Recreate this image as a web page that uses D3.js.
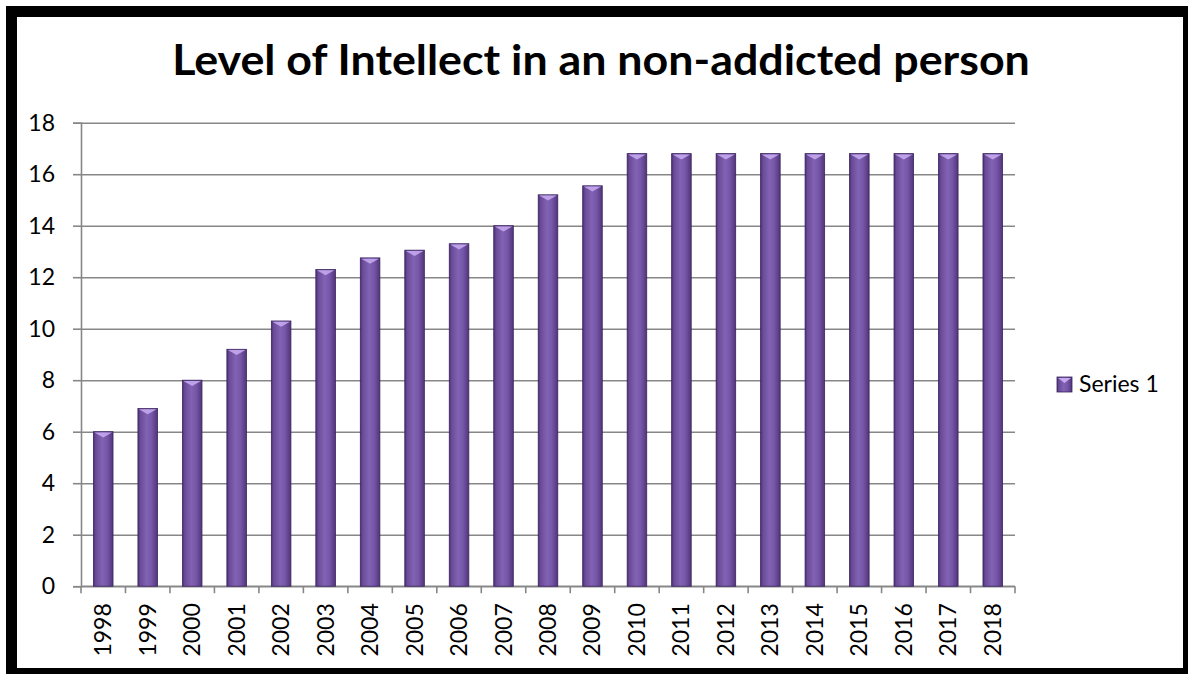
<!DOCTYPE html>
<html>
<head>
<meta charset="utf-8">
<script src="https://cdn.jsdelivr.net/npm/d3@7"></script>
<style>
  html, body { margin: 0; padding: 0; background: #fff; }
  svg { display: block; }
  text { font-family: Lato, "Open Sans", sans-serif; fill: #000; }
</style>
</head>
<body>
<svg id="chart" width="1188" height="674"></svg>
<script>
const title = "Level of Intellect in an non-addicted person";
const years = ["1998","1999","2000","2001","2002","2003","2004","2005","2006","2007","2008","2009","2010","2011","2012","2013","2014","2015","2016","2017","2018"];
const values = [6, 6.9, 8, 9.2, 10.3, 12.3, 12.75, 13.05, 13.3, 14, 15.2, 15.55, 16.8, 16.8, 16.8, 16.8, 16.8, 16.8, 16.8, 16.8, 16.8];
const yTicks = [0, 2, 4, 6, 8, 10, 12, 14, 16, 18];
const seriesName = "Series 1";

const svg = d3.select("#chart");
const W = 1188, H = 674;

svg.append("rect").attr("width", W).attr("height", H).attr("fill", "#fff");

const plot = { left: 81, right: 1015, top: 122.7, bottom: 586.2 };

const x = d3.scaleBand().domain(years).range([plot.left, plot.right]).paddingInner(0.56).paddingOuter(0.28);
const y = d3.scaleLinear().domain([0, 18]).range([plot.bottom, plot.top]);

// defs
const defs = svg.append("defs");
const grad = defs.append("linearGradient").attr("id", "barGrad").attr("x1", "0").attr("x2", "1").attr("y1", "0").attr("y2", "0");
[["0%", "#4a2f72"], ["12%", "#6a4b98"], ["45%", "#8262b3"], ["70%", "#7656a8"], ["100%", "#513579"]]
  .forEach(([o, c]) => grad.append("stop").attr("offset", o).attr("stop-color", c));

// gridlines
const gridY = d3.axisLeft(y).tickValues(yTicks).tickSize(-(plot.right - plot.left)).tickFormat("");
svg.append("g").attr("transform", `translate(${plot.left},0)`).call(gridY)
  .call(g => g.select(".domain").remove())
  .call(g => g.selectAll("line").attr("stroke", "#878787").attr("stroke-width", 1.6));

// y axis with tick labels
const yAxis = d3.axisLeft(y).tickValues(yTicks).tickSize(8).tickPadding(18);
svg.append("g").attr("transform", `translate(${plot.left},0)`).call(yAxis)
  .call(g => g.select(".domain").attr("stroke", "#878787").attr("stroke-width", 1.6))
  .call(g => g.selectAll("line").attr("stroke", "#878787").attr("stroke-width", 1.6))
  .call(g => g.selectAll("text").attr("font-size", 23).attr("font-family", "Lato, sans-serif").attr("fill", "#000"));

// x axis baseline & ticks at band boundaries
const xAxisG = svg.append("g").attr("transform", `translate(0,${plot.bottom})`);
xAxisG.append("line").attr("x1", plot.left).attr("x2", plot.right).attr("stroke", "#878787").attr("stroke-width", 1.6);
const step = x.step();
const boundaries = years.map((d, i) => x(d) - (step - x.bandwidth()) / 2).concat([plot.right]);
xAxisG.selectAll("line.tk").data(boundaries).join("line").attr("class", "tk")
  .attr("x1", d => d).attr("x2", d => d).attr("y1", 0).attr("y2", 7)
  .attr("stroke", "#878787").attr("stroke-width", 1.6);
xAxisG.selectAll("text").data(years).join("text")
  .attr("transform", d => `translate(${x(d) + x.bandwidth() / 2 + 8},${17}) rotate(-90)`)
  .attr("text-anchor", "end")
  .attr("font-size", 23)
  .text(d => d);

// bars
const bars = svg.append("g").selectAll("g").data(values.map((v, i) => ({ year: years[i], v }))).join("g");
bars.append("rect")
  .attr("x", d => x(d.year)).attr("y", d => y(d.v))
  .attr("width", x.bandwidth()).attr("height", d => y(0) - y(d.v))
  .attr("fill", "url(#barGrad)").attr("stroke", "#3a2460").attr("stroke-width", 0.8);
bars.append("path")
  .attr("d", d => {
    const x0 = x(d.year) + 1, x1 = x(d.year) + x.bandwidth() - 1, t = y(d.v) + 0.8, cx = (x0 + x1) / 2;
    return `M${x0},${t} L${x1},${t} L${cx},${t + 5} Z`;
  })
  .attr("fill", "#c4a9ee").attr("opacity", 0.9);

// title
const tt = svg.append("text").attr("x", 0).attr("y", 0)
  .attr("font-size", 42).attr("font-weight", "bold").attr("text-anchor", "middle")
  .text(title);
const tw = tt.node().getComputedTextLength();
const sx = 858 / tw;
tt.attr("transform", `translate(601,75) scale(${sx},1)`);

// legend
const lg = svg.append("g").attr("transform", "translate(1057,377)");
lg.append("rect").attr("width", 15).attr("height", 15).attr("fill", "url(#barGrad)").attr("stroke", "#3a2460").attr("stroke-width", 0.8);
lg.append("path").attr("d", "M1,1 L14,1 L7.5,6 Z").attr("fill", "#c4a9ee");
lg.append("text").attr("x", 22).attr("y", 15).attr("font-size", 23).text(seriesName);

// frame
svg.append("rect").attr("x", 11.5).attr("y", 11.5).attr("width", 1177).attr("height", 662)
  .attr("fill", "none").attr("stroke", "#000").attr("stroke-width", 11);
</script>
</body>
</html>
